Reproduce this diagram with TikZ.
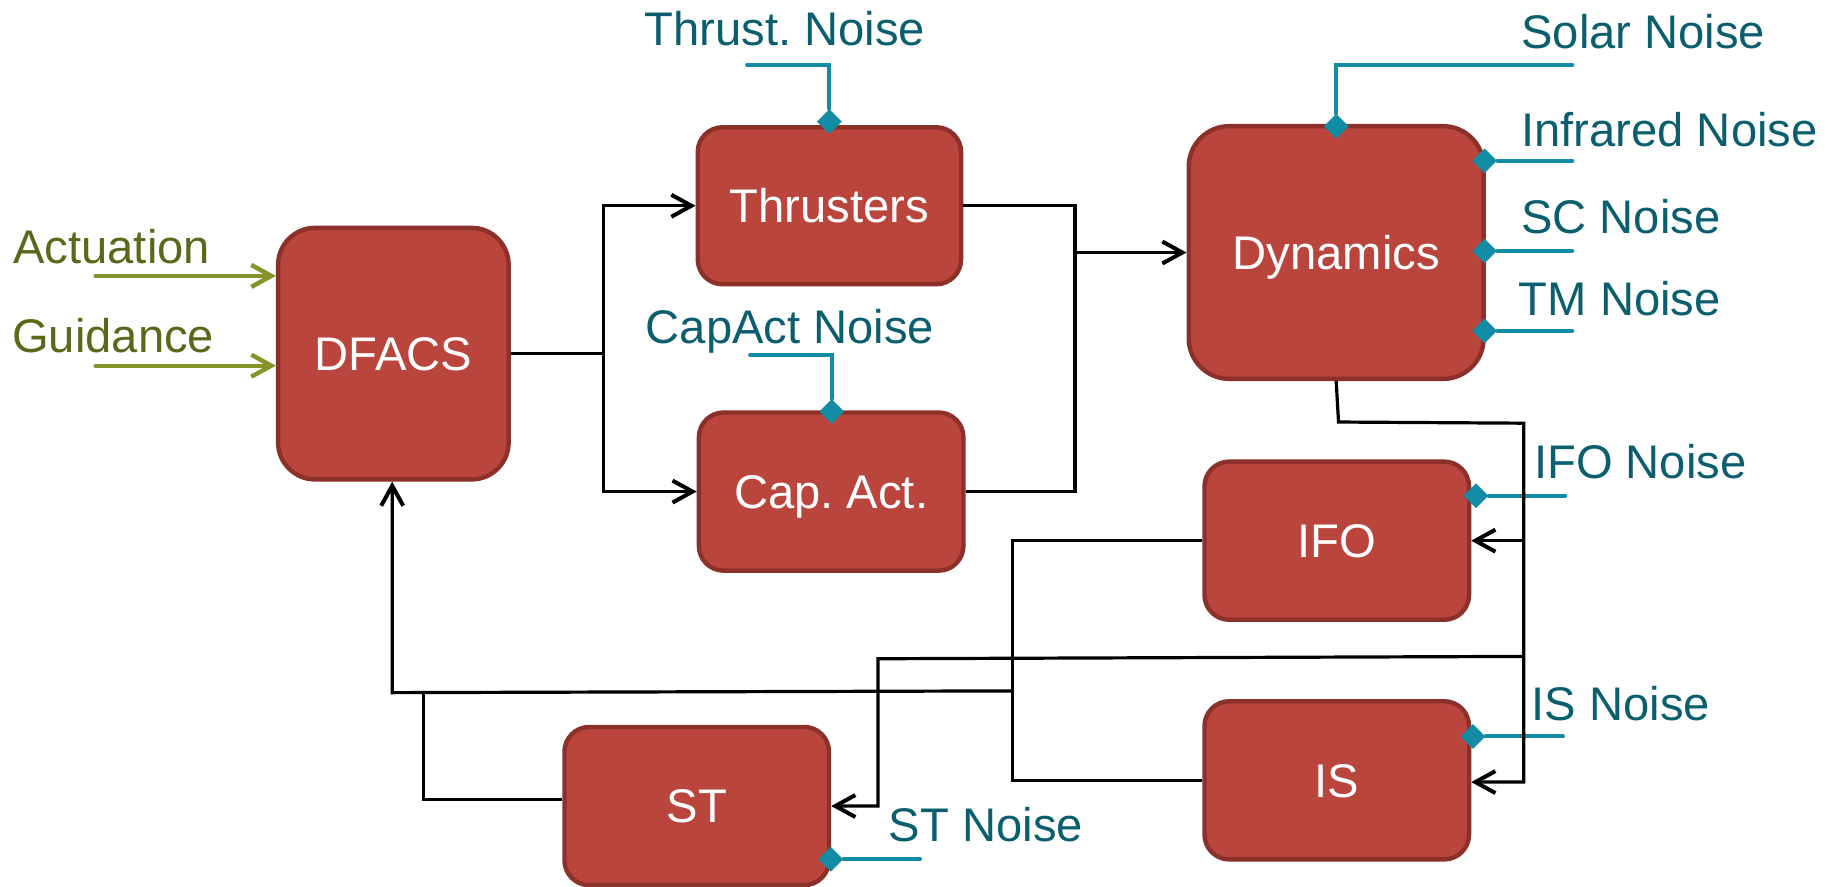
\documentclass[tikz,border=0pt]{standalone}
\usepackage{fontspec}
\setmainfont{Liberation Sans}
\usetikzlibrary{arrows.meta,shapes.geometric}
\definecolor{boxfill}{RGB}{185,69,61}
\definecolor{boxline}{RGB}{140,48,42}
\definecolor{noisetxt}{RGB}{11,94,110}
\definecolor{noiseln}{RGB}{18,140,164}
\definecolor{cmdtxt}{RGB}{93,103,27}
\definecolor{cmdln}{RGB}{134,147,40}
\frenchspacing
\begin{document}
\begin{tikzpicture}[x=0.5846bp,y=-0.5846bp,
  txt/.style={font=\fontsize{23.6bp}{28bp}\selectfont\frenchspacing, inner sep=0pt},
  block/.style={txt, draw=boxline, fill=boxfill, line width=2.2bp, text=white,
    rounded corners=12.4bp, minimum width=132.3bp, minimum height=79.1bp,
    text height=16.9bp, text depth=0pt},
  noiselbl/.style={txt, text=noisetxt, anchor=base west},
  cmdlbl/.style={txt, text=cmdtxt, anchor=base west},
  wire/.style={draw=black, line width=1.6bp},
  arr/.style={wire, -{Straight Barb[length=10bp,width=11bp,line width=2bp]}},
  cmdarr/.style={draw=cmdln, line width=2bp, line cap=round, -{Straight Barb[length=10bp,width=11bp,line width=2.2bp]}},
  nline/.style={draw=noiseln, line width=2bp, line cap=round},
  dia/.style={diamond, aspect=1, fill=noiseln, inner sep=0pt, minimum size=12.5bp},
]
\useasboundingbox (0,0) rectangle (1568,758);

% blocks
\node[block, minimum width=115.3bp, minimum height=125.8bp, rounded corners=18.5bp] (dfacs) at (336.5,302.5) {DFACS};
\node[block, minimum width=131.7bp, minimum height=78.5bp] (thr) at (709.5,176) {Thrusters};
\node[block] (cap) at (711,420.5) {Cap. Act.};
\node[block, minimum width=147.5bp, minimum height=126.4bp, rounded corners=20.3bp] (dyn) at (1143,216) {Dynamics};
\node[block] (ifo) at (1143.5,462.5) {IFO};
\node[block] (is) at (1143.5,667.5) {IS};
\node[block] (st) at (596,689.5) {ST};

% command inputs
\node[cmdlbl] (lact) at (11,225.5) {Actuation};
\node[cmdlbl] (lgui) at (10,301.5) {Guidance};
\coordinate (gact) at (81.6,236);
\coordinate (ggui) at (81.6,312.8);
\draw[cmdarr] (gact) -- (gact -| dfacs.west);
\draw[cmdarr] (ggui) -- (ggui -| dfacs.west);

% noise labels
\node[noiselbl] (lthr) at (551,38.5) {Thrust. Noise};
\node[noiselbl] (lcap) at (552,294) {CapAct Noise};
\node[noiselbl] (lsol) at (1301,41.3) {Solar Noise};
\node[noiselbl] (linf) at (1301,125.5) {Infrared Noise};
\node[noiselbl] (lsc) at (1301,199.6) {SC Noise};
\node[noiselbl] (ltm) at (1299,269.5) {TM Noise};
\node[noiselbl] (lifo) at (1312,409) {IFO Noise};
\node[noiselbl] (lis) at (1310,616) {IS Noise};
\node[noiselbl] (lst) at (760,720) {ST Noise};

% noise injection points
\node[dia] (dthr) at (709.5,104) {};
\node[dia] (dcap) at (711.5,352) {};
\node[dia] (dsol) at (1143,108) {};
\node[dia] (dinf) at (1270,137.5) {};
\node[dia] (dsc) at (1270,214.7) {};
\node[dia] (dtm) at (1270,283) {};
\node[dia] (difo) at (1262.6,424) {};
\node[dia] (dis) at (1260,630) {};
\node[dia] (dst) at (710.6,735) {};

\coordinate (nthr) at (639,55.6);
\coordinate (ncap) at (641.6,303.7);
\coordinate (nsol) at (1345,55.6);
\coordinate (ninf) at (1345,137.5);
\coordinate (nsc) at (1345,214.7);
\coordinate (ntm) at (1345,283);
\coordinate (nifo) at (1339,424);
\coordinate (nis) at (1337,630);
\coordinate (nst) at (787,735);

\draw[nline] (nthr) -| (dthr);
\draw[nline] (ncap) -| (dcap);
\draw[nline] (nsol) -| (dsol);
\draw[nline] (ninf) -- (dinf);
\draw[nline] (nsc) -- (dsc);
\draw[nline] (ntm) -- (dtm);
\draw[nline] (nifo) -- (difo);
\draw[nline] (nis) -- (dis);
\draw[nline] (nst) -- (dst);

% actuation paths
\coordinate (fork) at (516,302.5);
\draw[wire] (dfacs.east) -- (fork);
\draw[arr] (fork) |- (thr.west);
\draw[arr] (fork) |- (cap.west);
\coordinate (merge) at (919.5,216);
\draw[wire] (thr.east) -| (merge);
\draw[wire] (cap.east) -| (merge);
\draw[arr] (merge) -- (dyn.west);

% measurement bus
\coordinate (bend) at (1145,361);
\coordinate (bustop) at (1303.5,362);
\coordinate (busbot) at (1303.5,669);
\draw[arr] (dyn.south) -- (bend) -- (bustop) -- (busbot) -- (busbot -| is.east);
\draw[arr] (bustop |- ifo.east) -- (ifo.east);
\coordinate (sttap) at (1303.5,561.5);
\coordinate (stdrop) at (751,563.5);
\draw[arr] (sttap) -- (stdrop) |- (st.east);

% feedback to DFACS
\coordinate (fbx) at (866,591);
\draw[wire] (ifo.west) -| (is.west -| fbx) -- (is.west);
\coordinate (fbl) at (335.5,592.5);
\draw[arr] (fbx) -- (fbl) -- (fbl |- dfacs.south);
\coordinate (stjoin) at (362,592.5);
\draw[wire] ([yshift=3.2bp]st.west) -| (stjoin);
\end{tikzpicture}
\end{document}
